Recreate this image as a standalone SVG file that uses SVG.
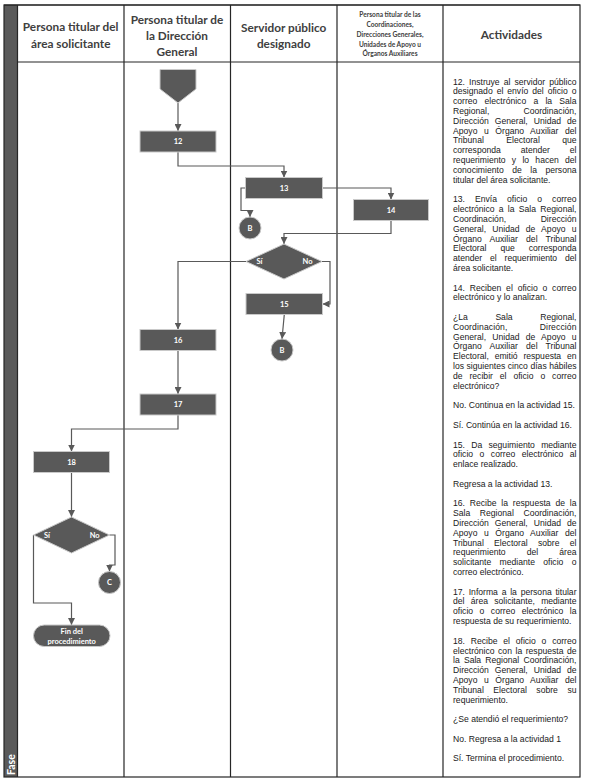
<svg xmlns="http://www.w3.org/2000/svg" width="590" height="783" viewBox="0 0 590 783">
<style>
.ln{stroke:#262626;stroke-width:1.2;fill:none}
.nd{fill:#595959;stroke:#c9c9c9;stroke-width:1}
.nt{fill:#ffffff;font-family:Lato,"Liberation Sans",sans-serif;font-weight:bold;font-size:7.5px;text-anchor:middle}
.cn{fill:none;stroke:#595959;stroke-width:1.2;marker-end:url(#ah)}
.ht{fill:#404040;font-family:Lato,"Liberation Sans",sans-serif;font-weight:bold;font-size:11.8px;text-anchor:middle}
.hs{fill:#404040;font-family:Lato,"Liberation Sans",sans-serif;font-weight:bold;font-size:6.6px;text-anchor:middle}
.at{fill:#1a1a1a;font-family:"Liberation Sans",Arial,sans-serif;font-size:8.6px}
</style>
<defs>
<marker id="ah" markerUnits="userSpaceOnUse" markerWidth="7" markerHeight="7" refX="7" refY="3.5" orient="auto">
<path d="M0,0 L7,3.5 L0,7 z" fill="#595959"/>
</marker>
</defs>
<rect x="0" y="0" width="590" height="783" fill="#ffffff"/>
<g id="table">
<rect x="4" y="5" width="13.5" height="772" fill="#5a5a5a"/>
<rect x="4" y="5" width="576" height="772" class="ln"/>
<line x1="17.5" y1="5" x2="17.5" y2="777" class="ln"/>
<line x1="124" y1="5" x2="124" y2="777" class="ln"/>
<line x1="230.5" y1="5" x2="230.5" y2="777" class="ln"/>
<line x1="337" y1="5" x2="337" y2="777" class="ln"/>
<line x1="443" y1="5" x2="443" y2="777" class="ln"/>
<line x1="17.5" y1="62" x2="580" y2="62" class="ln" stroke-width="1.6"/>
<line x1="4" y1="5" x2="580" y2="5" class="ln" stroke-width="1.8"/>
<text x="15" y="775" transform="rotate(-90 15 775)" fill="#ffffff" font-family="Lato, 'Liberation Sans', sans-serif" font-weight="bold" font-size="10.5">Fase</text>
</g>
<g id="header">
<text class="ht" x="70.7" y="31">Persona titular del</text>
<text class="ht" x="70.7" y="48">área solicitante</text>
<text class="ht" x="177" y="24">Persona titular de</text>
<text class="ht" x="177" y="40">la Dirección</text>
<text class="ht" x="177" y="56">General</text>
<text class="ht" x="283.7" y="32">Servidor público</text>
<text class="ht" x="283.7" y="48">designado</text>
<text class="hs" x="390" y="17">Persona titular de las</text>
<text class="hs" x="390" y="27">Coordinaciones,</text>
<text class="hs" x="390" y="37">Direcciones Generales,</text>
<text class="hs" x="390" y="46.5">Unidades de Apoyo u</text>
<text class="hs" x="390" y="56">Órganos Auxiliares</text>
<text class="ht" x="511.5" y="39" font-size="12.8">Actividades</text>
</g>
<g id="connectors">
<path class="cn" d="M178,103 L178,131"/>
<path class="cn" d="M178,152 L178,166 L284,166 L284,177.5"/>
<path class="cn" d="M322.5,188 L391,188 L391,199.5"/>
<path class="cn" d="M245.5,188 L241,188 L241,210.5 L250,210.5 L250,217"/>
<path class="cn" d="M391,220.5 L391,233.5 L284,233.5 L284,244"/>
<path class="cn" d="M322,261.5 L330,261.5 L330,304 L322.5,304"/>
<path class="cn" d="M246,261.5 L178,261.5 L178,329.5"/>
<path class="cn" d="M284.3,314.5 L282,339"/>
<path class="cn" d="M178,350.5 L178,394"/>
<path class="cn" d="M178,415 L178,429 L71.5,429 L71.5,451.5"/>
<path class="cn" d="M71.5,472.5 L71.5,517"/>
<path class="cn" d="M109.5,535 L115,535 L115,565 L109.5,565 L109.5,571.5"/>
<path class="cn" d="M33.5,535 L33.5,603 L71.5,603 L71.5,625"/>
</g>
<g id="start">
<polygon class="nd" points="160,69.5 196,69.5 196,89 178,103 160,89"/>
</g>
<g id="n12"><rect class="nd" x="140" y="131" width="76" height="21"/><text class="nt" x="178" y="144.2">12</text></g>
<g id="n13"><rect class="nd" x="245.5" y="177.5" width="77" height="21"/><text class="nt" x="284" y="190.7">13</text></g>
<g id="n14"><rect class="nd" x="353.5" y="199.5" width="75" height="21"/><text class="nt" x="391" y="212.7">14</text></g>
<g id="b1"><circle class="nd" cx="250" cy="228" r="11"/><text class="nt" x="250" y="230.7">B</text></g>
<g id="d1"><polygon class="nd" points="284,244 322,261.5 284,279 246,261.5"/><text class="nt" x="259.5" y="264.2">Sí</text><text class="nt" x="307.5" y="264.2">No</text></g>
<g id="n15"><rect class="nd" x="246" y="293.5" width="76.5" height="21"/><text class="nt" x="284.3" y="306.7">15</text></g>
<g id="b2"><circle class="nd" cx="282" cy="350" r="11"/><text class="nt" x="282" y="352.7">B</text></g>
<g id="n16"><rect class="nd" x="140" y="329.5" width="76" height="21"/><text class="nt" x="178" y="342.7">16</text></g>
<g id="n17"><rect class="nd" x="140" y="394" width="76" height="21"/><text class="nt" x="178" y="407.2">17</text></g>
<g id="n18"><rect class="nd" x="33.5" y="451.5" width="76" height="21"/><text class="nt" x="71.5" y="464.7">18</text></g>
<g id="d2"><polygon class="nd" points="71.5,517 109.5,535 71.5,553 33.5,535"/><text class="nt" x="47" y="537.7">Sí</text><text class="nt" x="94.7" y="537.7">No</text></g>
<g id="c1"><circle class="nd" cx="109.5" cy="582.5" r="11"/><text class="nt" x="109.5" y="585.2">C</text></g>
<g id="fin"><rect class="nd" x="33.5" y="625" width="76.5" height="21.5" rx="10.7"/><text class="nt" x="71.7" y="634" font-size="7">Fin del</text><text class="nt" x="71.7" y="643.5" font-size="7">procedimiento</text></g>
<g id="activities">
<text class="at" x="453" y="84.5" word-spacing="1.72" textLength="123.5" lengthAdjust="spacing">12. Instruye al servidor público</text>
<text class="at" x="453" y="94.3" word-spacing="1.56" textLength="123.5" lengthAdjust="spacing">designado el envío del oficio o</text>
<text class="at" x="453" y="104.1" word-spacing="4.8" textLength="123.5" lengthAdjust="spacing">correo electrónico a la Sala</text>
<text class="at" x="453" y="113.9" word-spacing="31.7" textLength="123.5" lengthAdjust="spacing">Regional, Coordinación,</text>
<text class="at" x="453" y="123.7" word-spacing="3.6" textLength="123.5" lengthAdjust="spacing">Dirección General, Unidad de</text>
<text class="at" x="453" y="133.6" word-spacing="4.1" textLength="123.5" lengthAdjust="spacing">Apoyo u Órgano Auxiliar del</text>
<text class="at" x="453" y="143.4" word-spacing="19.9" textLength="123.5" lengthAdjust="spacing">Tribunal Electoral que</text>
<text class="at" x="453" y="153.2" word-spacing="17.5" textLength="123.5" lengthAdjust="spacing">corresponda atender el</text>
<text class="at" x="453" y="163" word-spacing="3.85" textLength="123.5" lengthAdjust="spacing">requerimiento y lo hacen del</text>
<text class="at" x="453" y="172.8" word-spacing="6.1" textLength="123.5" lengthAdjust="spacing">conocimiento de la persona</text>
<text class="at" x="453" y="182.6">titular del área solicitante.</text>
<text class="at" x="453" y="202.2" word-spacing="7.65" textLength="123.5" lengthAdjust="spacing">13. Envía oficio o correo</text>
<text class="at" x="453" y="212" word-spacing="1.85" textLength="123.5" lengthAdjust="spacing">electrónico a la Sala Regional,</text>
<text class="at" x="453" y="221.8" word-spacing="32.2" textLength="123.5" lengthAdjust="spacing">Coordinación, Dirección</text>
<text class="at" x="453" y="231.7" word-spacing="3.75" textLength="123.5" lengthAdjust="spacing">General, Unidad de Apoyo u</text>
<text class="at" x="453" y="241.5" word-spacing="5.7" textLength="123.5" lengthAdjust="spacing">Órgano Auxiliar del Tribunal</text>
<text class="at" x="453" y="251.3" word-spacing="11.6" textLength="123.5" lengthAdjust="spacing">Electoral que corresponda</text>
<text class="at" x="453" y="261.1" word-spacing="5.5" textLength="123.5" lengthAdjust="spacing">atender el requerimiento del</text>
<text class="at" x="453" y="270.9">área solicitante.</text>
<text class="at" x="453" y="290.5" word-spacing="2.4" textLength="123.5" lengthAdjust="spacing">14. Reciben el oficio o correo</text>
<text class="at" x="453" y="300.3">electrónico y lo analizan.</text>
<text class="at" x="453" y="319.9" word-spacing="25.2" textLength="123.5" lengthAdjust="spacing">¿La Sala Regional,</text>
<text class="at" x="453" y="329.8" word-spacing="29.8" textLength="123.5" lengthAdjust="spacing">Coordinación, Dirección</text>
<text class="at" x="453" y="339.6" word-spacing="3.75" textLength="123.5" lengthAdjust="spacing">General, Unidad de Apoyo u</text>
<text class="at" x="453" y="349.4" word-spacing="5.7" textLength="123.5" lengthAdjust="spacing">Órgano Auxiliar del Tribunal</text>
<text class="at" x="453" y="359.2" word-spacing="3.4" textLength="123.5" lengthAdjust="spacing">Electoral, emitió respuesta en</text>
<text class="at" x="453" y="369" word-spacing="0.15" textLength="123.5" lengthAdjust="spacing">los siguientes cinco días hábiles</text>
<text class="at" x="453" y="378.8" word-spacing="4.5" textLength="123.5" lengthAdjust="spacing">de recibir el oficio o correo</text>
<text class="at" x="453" y="388.6">electrónico?</text>
<text class="at" x="453" y="408.2">No. Continua en la actividad 15.</text>
<text class="at" x="453" y="427.9">Sí. Continúa en la actividad 16.</text>
<text class="at" x="453" y="447.5" word-spacing="3.9" textLength="123.5" lengthAdjust="spacing">15. Da seguimiento mediante</text>
<text class="at" x="453" y="457.3" word-spacing="4.1" textLength="123.5" lengthAdjust="spacing">oficio o correo electrónico al</text>
<text class="at" x="453" y="467.1">enlace realizado.</text>
<text class="at" x="453" y="486.7">Regresa a la actividad 13.</text>
<text class="at" x="453" y="506.3" word-spacing="2.4" textLength="123.5" lengthAdjust="spacing">16. Recibe la respuesta de la</text>
<text class="at" x="453" y="516.1" word-spacing="7.25" textLength="123.5" lengthAdjust="spacing">Sala Regional Coordinación,</text>
<text class="at" x="453" y="526" word-spacing="3.6" textLength="123.5" lengthAdjust="spacing">Dirección General, Unidad de</text>
<text class="at" x="453" y="535.8" word-spacing="4.1" textLength="123.5" lengthAdjust="spacing">Apoyo u Órgano Auxiliar del</text>
<text class="at" x="453" y="545.6" word-spacing="7.9" textLength="123.5" lengthAdjust="spacing">Tribunal Electoral sobre el</text>
<text class="at" x="453" y="555.4" word-spacing="18.7" textLength="123.5" lengthAdjust="spacing">requerimiento del área</text>
<text class="at" x="453" y="565.2" word-spacing="6.0" textLength="123.5" lengthAdjust="spacing">solicitante mediante oficio o</text>
<text class="at" x="453" y="575">correo electrónico.</text>
<text class="at" x="453" y="594.6" word-spacing="1.4" textLength="123.5" lengthAdjust="spacing">17. Informa a la persona titular</text>
<text class="at" x="453" y="604.4" word-spacing="3.9" textLength="123.5" lengthAdjust="spacing">del área solicitante, mediante</text>
<text class="at" x="453" y="614.2" word-spacing="4.1" textLength="123.5" lengthAdjust="spacing">oficio o correo electrónico la</text>
<text class="at" x="453" y="624.1">respuesta de su requerimiento.</text>
<text class="at" x="453" y="643.7" word-spacing="3.4" textLength="123.5" lengthAdjust="spacing">18. Recibe el oficio o correo</text>
<text class="at" x="453" y="653.5" word-spacing="1.15" textLength="123.5" lengthAdjust="spacing">electrónico con la respuesta de</text>
<text class="at" x="453" y="663.3" word-spacing="1.8" textLength="123.5" lengthAdjust="spacing">la Sala Regional Coordinación,</text>
<text class="at" x="453" y="673.1" word-spacing="3.6" textLength="123.5" lengthAdjust="spacing">Dirección General, Unidad de</text>
<text class="at" x="453" y="682.9" word-spacing="4.1" textLength="123.5" lengthAdjust="spacing">Apoyo u Órgano Auxiliar del</text>
<text class="at" x="453" y="692.7" word-spacing="7.1" textLength="123.5" lengthAdjust="spacing">Tribunal Electoral sobre su</text>
<text class="at" x="453" y="702.5">requerimiento.</text>
<text class="at" x="453" y="722.2">¿Se atendió el requerimiento?</text>
<text class="at" x="453" y="741.8">No. Regresa a la actividad 1</text>
<text class="at" x="453" y="761.4">Sí. Termina el procedimiento.</text>
</g>
</svg>
